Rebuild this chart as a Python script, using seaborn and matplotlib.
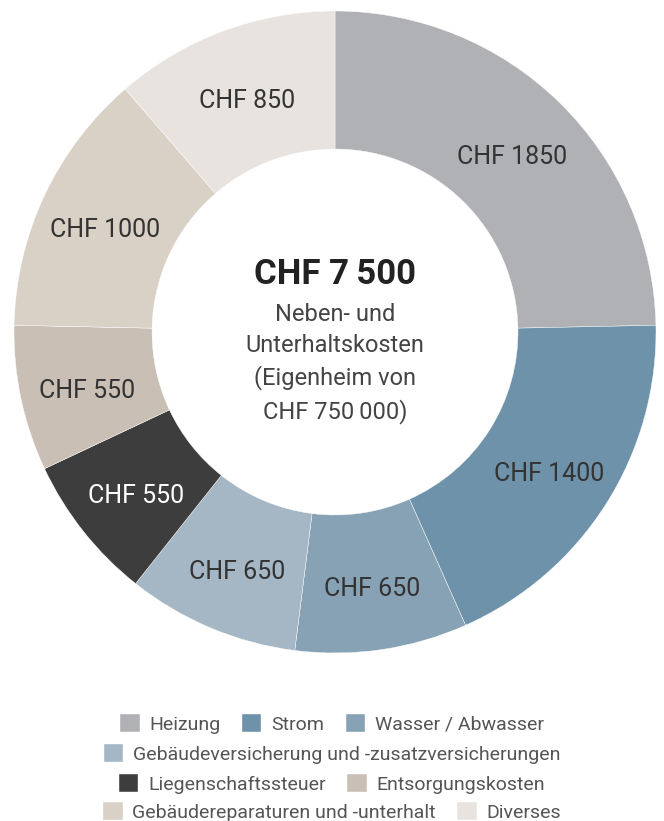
import matplotlib
matplotlib.use("Agg")
import matplotlib.pyplot as plt
import seaborn as sns
from matplotlib import font_manager

# ---------- Data ----------
categories = ["Heizung", "Strom", "Wasser / Abwasser",
              "Gebäudeversicherung und -zusatzversicherungen",
              "Liegenschaftssteuer", "Entsorgungskosten",
              "Gebäudereparaturen und -unterhalt", "Diverses"]
values = [1850, 1400, 650, 650, 550, 550, 1000, 850]
colors = ["#b0b1b5", "#6d92aa", "#87a2b5", "#a5b7c5",
          "#3d3d3d", "#c9bfb5", "#d9d0c6", "#e8e3de"]
legend_rows = [[0, 1, 2], [3], [4, 5], [6, 7]]
total_label = "CHF 7\u2009500"
subtitle = "Neben- und\nUnterhaltskosten\n(Eigenheim von\nCHF 750\u2009000)"

sns.set_theme(style="white")
names = {f.name for f in font_manager.fontManager.ttflist}
base = "Liberation Sans Narrow" if "Liberation Sans Narrow" in names else "Roboto"
plt.rcParams["font.family"] = [base, "DejaVu Sans"]

fig = plt.figure(figsize=(6.64, 8.21), dpi=100)
ax = fig.add_axes([14 / 664, (821 - 332 - 321) / 821, 642 / 664, 642 / 821])

total = sum(values)


def fmt(pct):
    return f"CHF {int(round(pct * total / 100))}"


wedges, _, autotexts = ax.pie(
    values, colors=colors, startangle=90, counterclock=False,
    autopct=fmt, pctdistance=0.79,
    wedgeprops=dict(width=0.43, linewidth=0.3, edgecolor="white"),
    textprops=dict(fontsize=18, color="#333333"))
for t in autotexts:
    x, y = t.get_position()
    t.set_position((x, y - 0.02))
autotexts[4].set_color("white")
ax.set_aspect("equal")
ax.set_xlim(-1, 1)
ax.set_ylim(-1, 1)
ax.axis("off")

ax.text(0, 0.18, total_label, ha="center", va="center",
        fontsize=25, fontweight="bold", color="#222222")
ax.text(0, -0.097, subtitle, ha="center", va="center",
        fontsize=17, color="#444444", linespacing=1.44)

# ---------- Legend rows ----------
row_y = [724, 754, 784, 812]
for row, y in zip(legend_rows, row_y):
    fig.legend([wedges[i] for i in row], [categories[i] for i in row],
               loc="center", bbox_to_anchor=(0.5, 1 - y / 821),
               ncol=len(row), frameon=False,
               prop=dict(size=14),
               labelcolor="#555555", handlelength=1.0, handleheight=1.0,
               handletextpad=0.5, columnspacing=1.1, borderpad=0)

fig.savefig("out.png", dpi=100)
